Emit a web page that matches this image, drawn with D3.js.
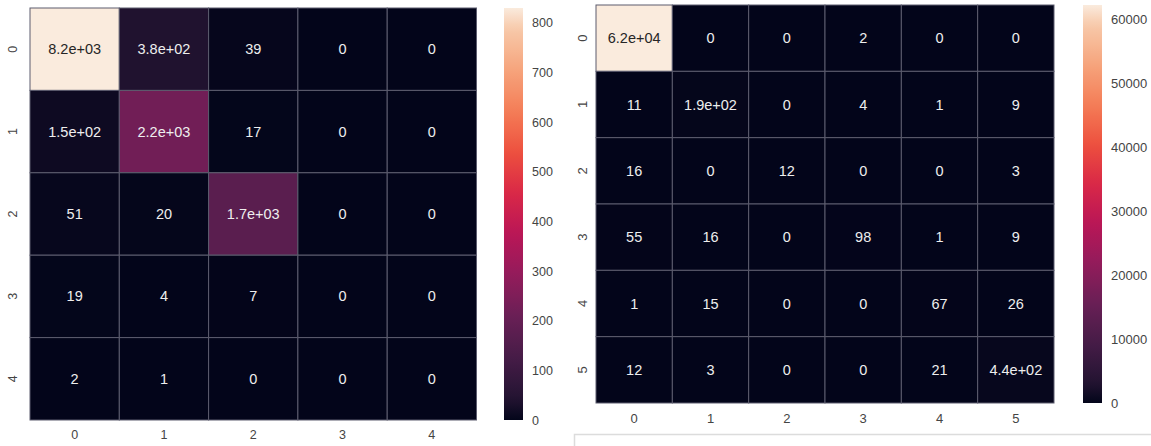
<!DOCTYPE html>
<html>
<head>
<meta charset="utf-8">
<script src="https://cdn.jsdelivr.net/npm/d3@7"></script>
<style>
  html, body { margin: 0; padding: 0; background: #fff; }
  svg { display: block; font-family: "Liberation Sans", Arial, sans-serif; }
</style>
</head>
<body>
<svg id="chart" width="1151" height="446"></svg>
<script>
// ---- data: two confusion matrices ----
const leftClasses = ["0", "1", "2", "3", "4"];
const leftValues = [
  [8200, 380, 39, 0, 0],
  [150, 2200, 17, 0, 0],
  [51, 20, 1700, 0, 0],
  [19, 4, 7, 0, 0],
  [2, 1, 0, 0, 0]
];
const leftBarTicks = [0, 100, 200, 300, 400, 500, 600, 700, 800];
const leftBarMax = 830;

const rightClasses = ["0", "1", "2", "3", "4", "5"];
const rightValues = [
  [62000, 0, 0, 2, 0, 0],
  [11, 190, 0, 4, 1, 9],
  [16, 0, 12, 0, 0, 3],
  [55, 16, 0, 98, 1, 9],
  [1, 15, 0, 0, 67, 26],
  [12, 3, 0, 0, 21, 440]
];
const rightBarTicks = [0, 10000, 20000, 30000, 40000, 50000, 60000];
const rightBarMax = 62300;

// ---- "rocket" colormap (seaborn) ----
const rocketStops = [
  [0.00, "#03051a"], [0.05, "#221331"], [0.15, "#451c47"], [0.25, "#691f55"],
  [0.35, "#921c5b"], [0.45, "#b91657"], [0.55, "#d92847"], [0.65, "#ed503e"],
  [0.75, "#f47d57"], [0.85, "#f6a47c"], [0.95, "#f7c9aa"], [1.00, "#faebdd"]
];
const rocket = d3.scaleLinear()
  .domain(rocketStops.map(d => d[0]))
  .range(rocketStops.map(d => d[1]))
  .interpolate(d3.interpolateRgb)
  .clamp(true);

// Python-style '.2g' formatting (e.g. 8200 -> "8.2e+03")
function fmt2g(v) {
  if (v === 0) return "0";
  const e = Math.floor(Math.log10(Math.abs(v)));
  if (e >= 2) {
    const [m, ex] = v.toExponential(1).split("e");
    const sign = ex[0] === "-" ? "-" : "+";
    const digits = ex.replace(/[+-]/, "").padStart(2, "0");
    return m + "e" + sign + digits;
  }
  return String(+v.toPrecision(2));
}

const svg = d3.select("#chart");
const defs = svg.append("defs");

function heatmap(opt) {
  const g = svg.append("g");
  const x = d3.scaleBand().domain(opt.classes).range([opt.x0, opt.x1]);
  const y = d3.scaleBand().domain(opt.classes).range([opt.y0, opt.y1]);
  const vmax = d3.max(opt.values.flat());
  const color = d3.scaleLinear().domain([0, vmax]).range([0, 1]);

  const cells = opt.values.flatMap((row, i) =>
    row.map((v, j) => ({ r: opt.classes[i], c: opt.classes[j], v })));

  g.selectAll("rect.cell").data(cells).enter().append("rect")
    .attr("class", "cell")
    .attr("x", d => x(d.c))
    .attr("y", d => y(d.r))
    .attr("width", x.bandwidth())
    .attr("height", y.bandwidth())
    .attr("fill", d => rocket(color(d.v)))
    .attr("stroke", "#5c5c6e")
    .attr("stroke-width", 1);

  g.selectAll("text.annot").data(cells).enter().append("text")
    .attr("class", "annot")
    .attr("x", d => x(d.c) + x.bandwidth() / 2)
    .attr("y", d => y(d.r) + y.bandwidth() / 2)
    .attr("text-anchor", "middle")
    .attr("dominant-baseline", "central")
    .attr("font-size", opt.annotSize)
    .attr("fill", d => color(d.v) > 0.6 ? "#262626" : "#eeeeee")
    .text(d => fmt2g(d.v));

  // column labels
  g.selectAll("text.xtick").data(opt.classes).enter().append("text")
    .attr("class", "xtick")
    .attr("x", d => x(d) + x.bandwidth() / 2)
    .attr("y", opt.xLabelY)
    .attr("text-anchor", "middle")
    .attr("dominant-baseline", "central")
    .attr("font-size", opt.tickSize)
    .attr("fill", "#444")
    .text(d => d);

  // row labels, rotated
  g.selectAll("text.ytick").data(opt.classes).enter().append("text")
    .attr("class", "ytick")
    .attr("transform", d => `translate(${opt.yLabelX},${y(d) + y.bandwidth() / 2}) rotate(-90)`)
    .attr("text-anchor", "middle")
    .attr("dominant-baseline", "central")
    .attr("font-size", opt.tickSize)
    .attr("fill", "#444")
    .text(d => d);

  // colour bar
  const gradId = "grad" + opt.id;
  const grad = defs.append("linearGradient").attr("id", gradId)
    .attr("x1", 0).attr("y1", 1).attr("x2", 0).attr("y2", 0);
  d3.range(0, 1.0001, 0.02).forEach(t => {
    grad.append("stop").attr("offset", t).attr("stop-color", rocket(t));
  });
  const bar = d3.scaleLinear().domain([0, opt.barMax]).range([opt.y1, opt.y0]);
  g.append("rect")
    .attr("x", opt.barX)
    .attr("y", bar(opt.barMax))
    .attr("width", opt.barW)
    .attr("height", bar(0) - bar(opt.barMax))
    .attr("fill", `url(#${gradId})`);

  const axis = d3.axisRight(bar).tickValues(opt.barTicks).tickSize(0).tickPadding(0)
    .tickFormat(d3.format("d"));
  const ax = g.append("g")
    .attr("transform", `translate(${opt.barX + opt.barW + opt.barGap},0)`)
    .call(axis);
  ax.select(".domain").remove();
  ax.selectAll("text")
    .attr("font-size", opt.tickSize)
    .attr("fill", "#444")
    .attr("font-family", "Liberation Sans, Arial, sans-serif");
}

heatmap({
  id: "L", classes: leftClasses, values: leftValues,
  x0: 30, x1: 476.5, y0: 8, y1: 420,
  xLabelY: 435, yLabelX: 13,
  barX: 504, barW: 19, barGap: 9, barMax: leftBarMax, barTicks: leftBarTicks,
  annotSize: 14.5, tickSize: 12.5
});

heatmap({
  id: "R", classes: rightClasses, values: rightValues,
  x0: 596, x1: 1054, y0: 5, y1: 403,
  xLabelY: 418, yLabelX: 582,
  barX: 1083, barW: 19, barGap: 9, barMax: rightBarMax, barTicks: rightBarTicks,
  annotSize: 14.5, tickSize: 13
});

// frame of the panel below the right chart
svg.append("path")
  .attr("d", "M574.5,446 V434.5 H1151")
  .attr("fill", "none")
  .attr("stroke", "#dcdcdc")
  .attr("stroke-width", 1.5);
</script>
</body>
</html>
